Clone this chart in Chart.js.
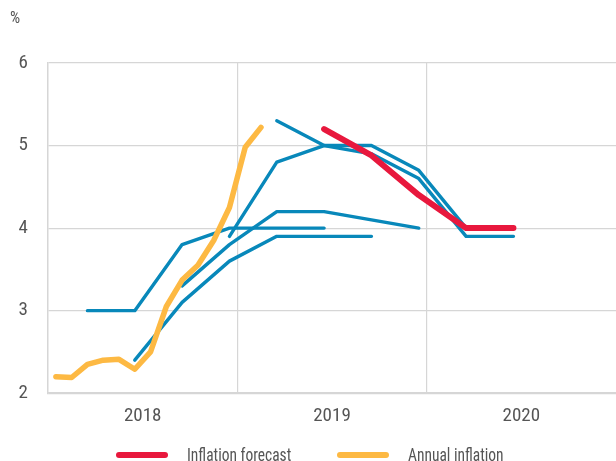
<!DOCTYPE html>
<html>
<head>
<meta charset="utf-8">
<script src="https://cdn.jsdelivr.net/npm/chart.js@4.4.1/dist/chart.umd.min.js"></script>
<style>
    html, body { margin: 0; background: #fff; overflow: hidden; }
    #wrap { position: relative; width: 616px; height: 461px; }
    #unit { position: absolute; left: 10px; top: 10px; font: 16px 'Roboto Condensed', Roboto, sans-serif; color: #555; line-height: 16px; }
    .item { position: absolute; top: 445px; display: flex; align-items: center; font: 18px 'Roboto Condensed', Roboto, sans-serif; color: #555; line-height: 20px; white-space: nowrap; }
    .swatch { width: 52px; height: 6px; border-radius: 3px; margin-right: 19px; }
    .label { display: inline-block; transform: scaleX(0.86); transform-origin: left center; }
</style>
</head>
<body>
<div id="wrap">
    <canvas id="inflationChart"></canvas>
    <span id="unit">%</span>
</div>
<script>
const FONT = "'Roboto Condensed', 'Liberation Sans Narrow', Roboto, sans-serif"

// Year tick labels (placed at mid-year)
const years = ['2018', '2019', '2020']

// Annual inflation, monthly from January 2018
const annualMonths = ['2018-01', '2018-02', '2018-03', '2018-04', '2018-05', '2018-06', '2018-07',
    '2018-08', '2018-09', '2018-10', '2018-11', '2018-12', '2019-01', '2019-02']
const annualInflation = [2.2, 2.19, 2.35, 2.4, 2.41, 2.29, 2.5, 3.05, 3.37, 3.55, 3.85, 4.25, 4.98, 5.22]

// Forecasts, quarterly (quarter-end months)
const quarters = ['2018-03', '2018-06', '2018-09', '2018-12', '2019-03', '2019-06', '2019-09', '2019-12', '2020-03', '2020-06']
const forecastMar18 = [3.0, 3.0, 3.8, 4.0, 4.0, 4.0, null, null, null, null]
const forecastJun18 = [null, 2.4, 3.1, 3.6, 3.9, 3.9, 3.9, null, null, null]
const forecastSep18 = [null, null, 3.3, 3.8, 4.2, 4.2, 4.1, 4.0, null, null]
const forecastDec18 = [null, null, null, 3.9, 4.8, 5.0, 5.0, 4.7, 4.0, null]
const forecastMar19 = [null, null, null, null, 5.3, 5.0, 4.9, 4.6, 3.9, 3.9]
const inflationForecast = [null, null, null, null, null, 5.2, 4.88, 4.4, 4.0, 4.0]

const RED = '#e8183d'
const ORANGE = '#fdb943'
const BLUE = '#0888ba'
const GRID = '#d6d6d6'

// month label -> position on x axis (month centre, 0 = start of 2018)
function monthPos(m) {
    const [y, mo] = m.split('-').map(Number)
    return (y - 2018) * 12 + (mo - 1) + 0.5
}

function toPoints(labels, values) {
    return labels.map((m, i) => ({ x: monthPos(m), y: values[i] }))
}

function lineSet(label, labels, values, color, width) {
    return {
        label,
        data: toPoints(labels, values),
        borderColor: color,
        backgroundColor: color,
        borderWidth: width,
        borderCapStyle: 'round',
        borderJoinStyle: 'round',
        pointRadius: 0,
        tension: 0,
        spanGaps: false,
    }
}

const datasets = [
    lineSet('Inflation forecast', quarters, inflationForecast, RED, 6),
    lineSet('Annual inflation', annualMonths, annualInflation, ORANGE, 5.5),
    lineSet('', quarters, forecastMar19, BLUE, 3.4),
    lineSet('', quarters, forecastDec18, BLUE, 3.4),
    lineSet('', quarters, forecastSep18, BLUE, 3.4),
    lineSet('', quarters, forecastJun18, BLUE, 3.4),
    lineSet('', quarters, forecastMar18, BLUE, 3.4),
]

const ctx = document.getElementById('inflationChart').getContext('2d')

new Chart(ctx, {
    type: 'line',
    data: { datasets },
    options: {
        responsive: true,
        maintainAspectRatio: false,
        animation: false,
        layout: { padding: { top: 63, right: 0, bottom: 21, left: 0 } },
        plugins: {
            legend: { display: false },
            tooltip: { enabled: false }
        },
        scales: {
            x: {
                type: 'linear',
                min: 0,
                max: 36,
                afterBuildTicks: axis => {
                    axis.ticks = [0, 6, 12, 18, 24, 30, 36].map(v => ({ value: v }))
                },
                // no empty space on the right, the plot runs to the edge
                afterFit: scale => { scale.paddingRight = 0 },
                ticks: {
                    autoSkip: false,
                    maxRotation: 0,
                    padding: 12,
                    color: '#555',
                    font: { family: FONT, size: 19 },
                    callback: v => (v % 12 === 6 ? years[(v - 6) / 12] : '')
                },
                grid: {
                    drawTicks: false,
                    color: c => (c.tick && c.tick.value % 12 === 0 && c.tick.value > 0 && c.tick.value < 36) ? GRID : 'transparent',
                    lineWidth: 1.2
                },
                border: { color: GRID, width: 1.5 }
            },
            y: {
                min: 2,
                max: 6,
                afterFit: scale => { scale.width = 48 },
                ticks: {
                    stepSize: 1,
                    padding: 20,
                    color: '#555',
                    font: { family: FONT, size: 19 }
                },
                grid: { drawTicks: false, color: GRID, lineWidth: 1.2 },
                border: { color: GRID, width: 1.5 }
            }
        }
    }
})

// legend
const legendItems = [['Inflation forecast', RED, 116], ['Annual inflation', ORANGE, 337]]
const wrap = document.getElementById('wrap')
legendItems.forEach(([text, color, left]) => {
    const item = document.createElement('div')
    item.className = 'item'
    item.style.left = left + 'px'
    item.innerHTML = '<span class="swatch" style="background:' + color + '"></span><span class="label">' + text + '</span>'
    wrap.appendChild(item)
})
</script>
</body>
</html>
